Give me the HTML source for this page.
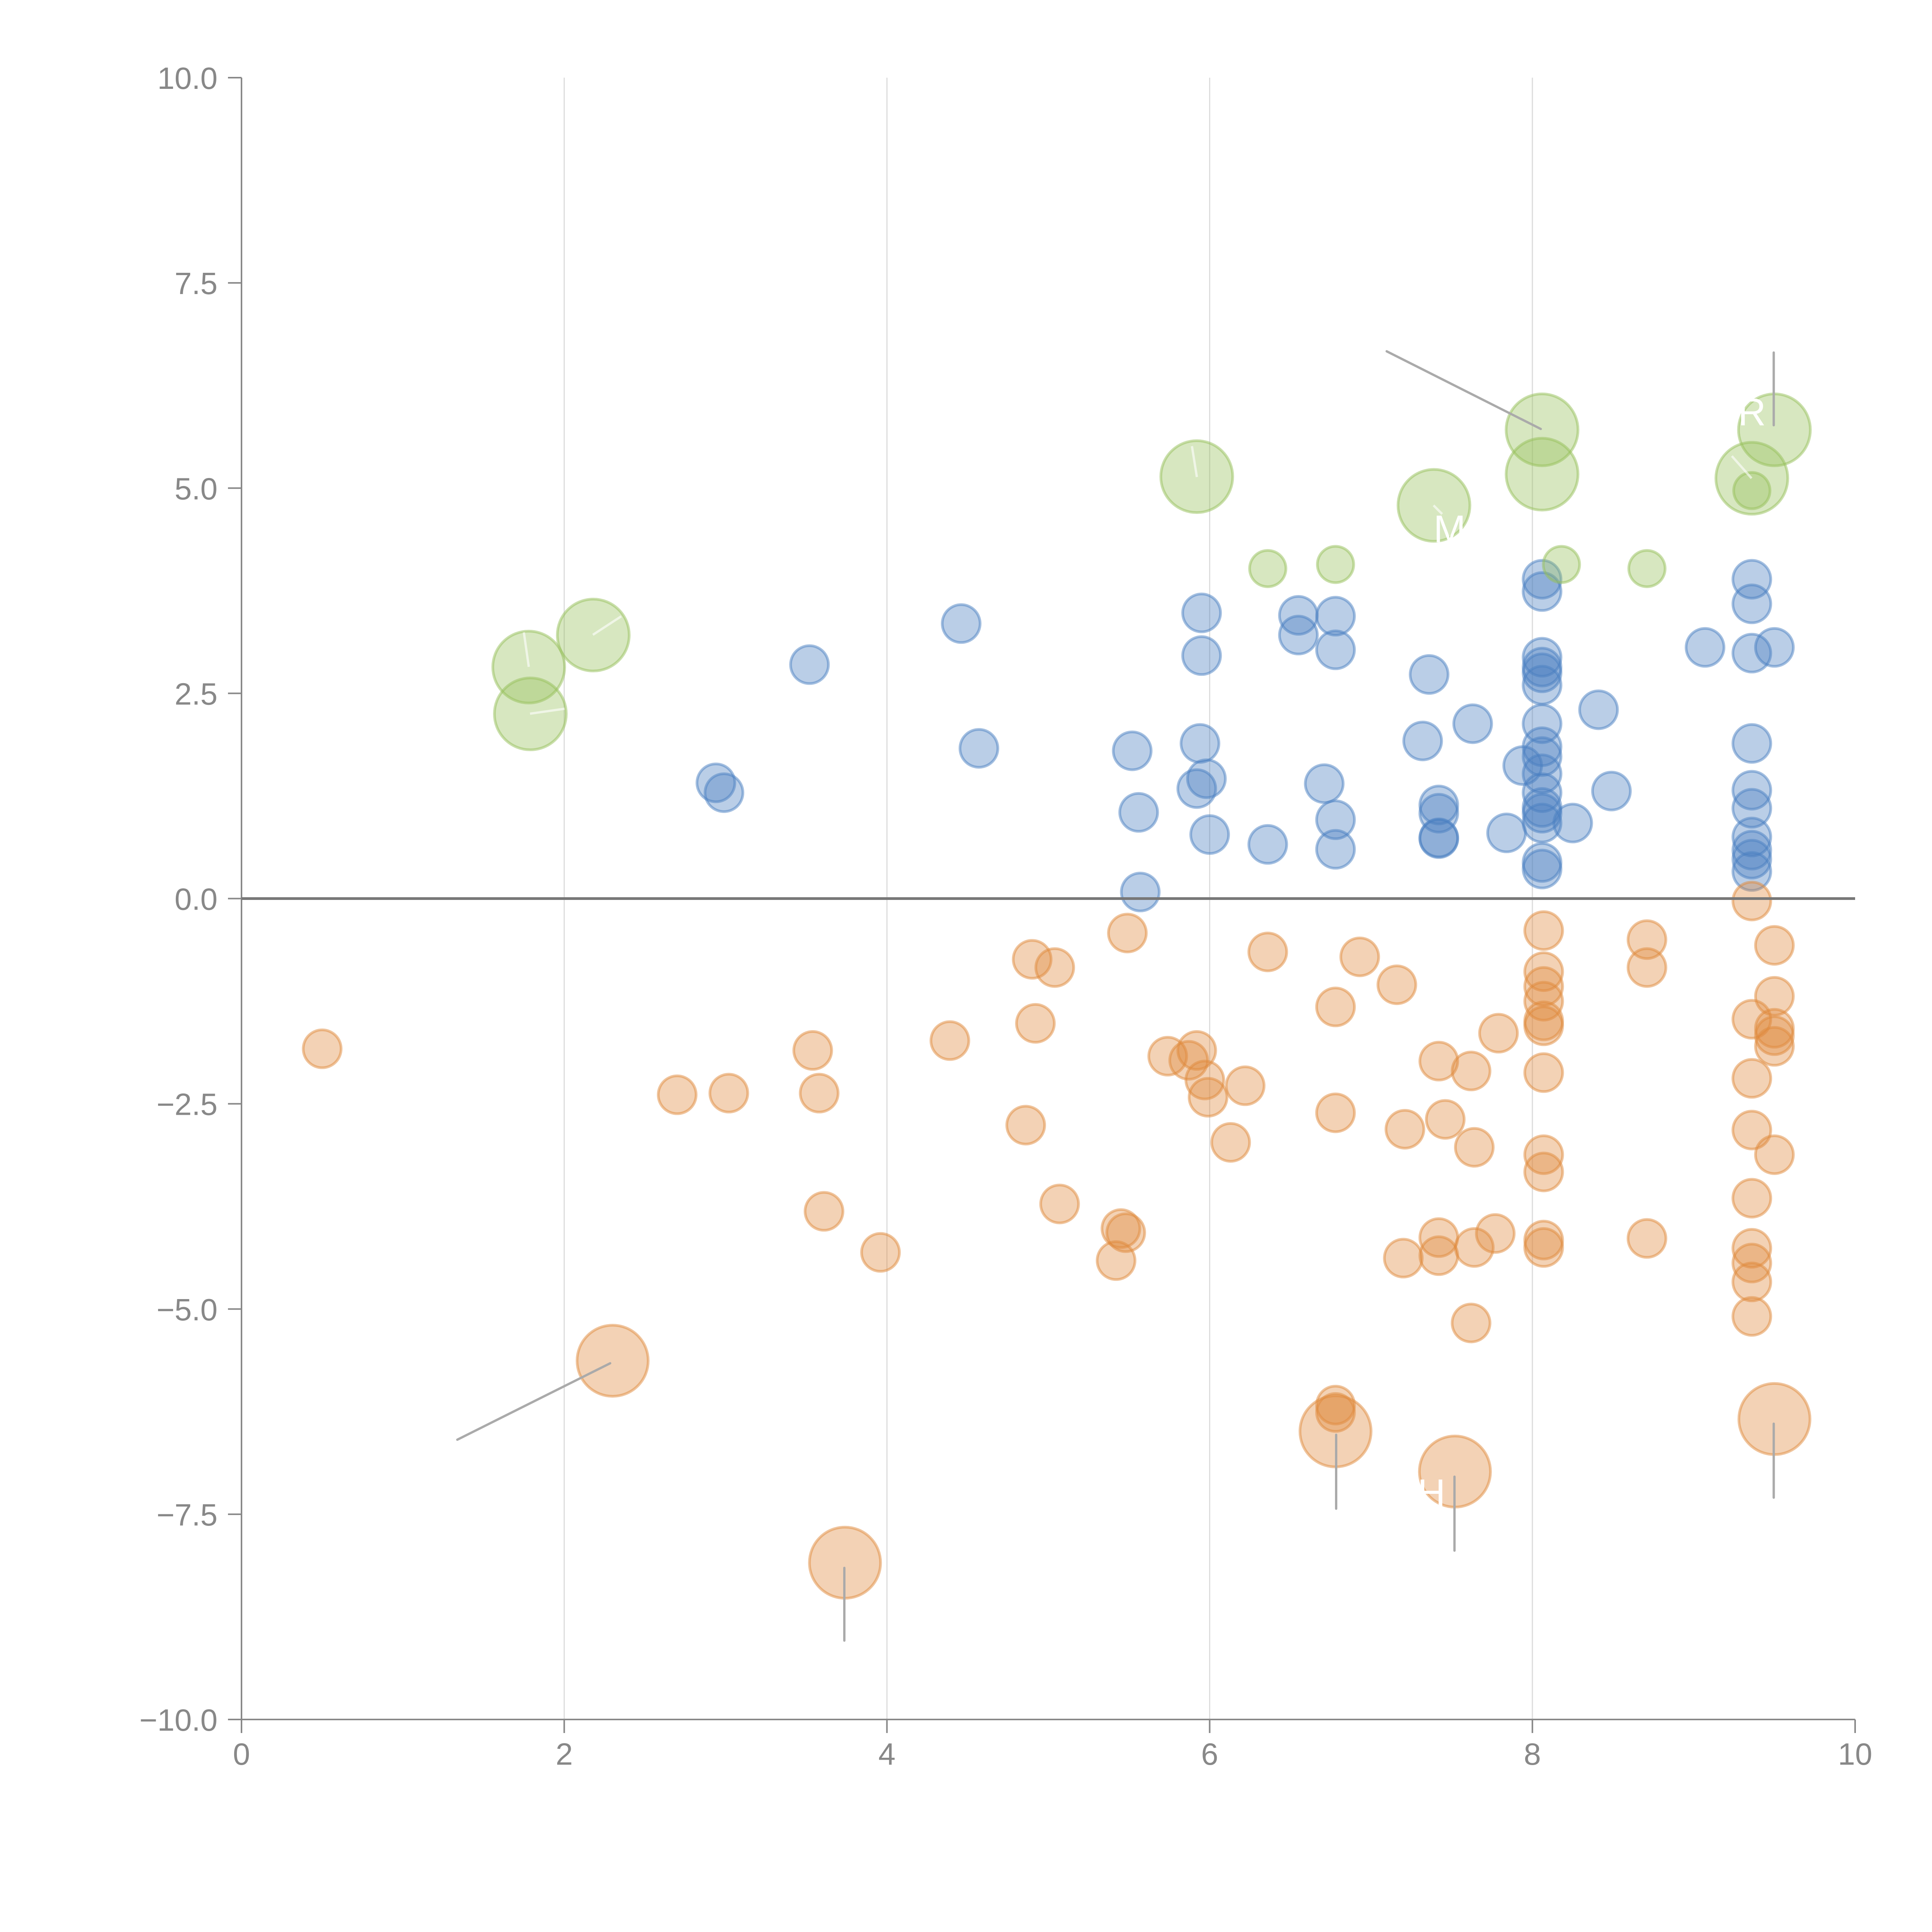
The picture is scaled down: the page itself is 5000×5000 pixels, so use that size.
<!DOCTYPE html>
<html><head><meta charset="utf-8"><style>
html,body{margin:0;padding:0;background:#fff;}
svg{display:block;font-family:"Liberation Sans",sans-serif;}
</style></head><body>
<svg id="chart" width="5000" height="5000" viewBox="0 0 5000 5000" xmlns="http://www.w3.org/2000/svg"></svg>
<script>
const xTicks=[0,2,4,6,8,10];
const yTicks=[-10,-7.5,-5,-2.5,0,2.5,5,7.5,10];
const xTickLabels=["0","2","4","6","8","10"];
const yTickLabels=["\u221210.0","\u22127.5","\u22125.0","\u22122.5","0.0","2.5","5.0","7.5","10.0"];

const greenBigX=[1.78,2.18,1.79,5.92,7.39,8.06,8.06,9.50,9.36];
const greenBigY=[2.82,3.21,2.25,5.14,4.79,5.71,5.17,5.71,5.12];
const greenX=[9.36,6.36,6.78,8.18,8.71];
const greenY=[4.97,4.02,4.07,4.07,4.02];

const blueX=[3.52,4.46,4.57,2.94,2.99,5.52,5.56,5.57,5.95,5.95,5.94,5.92,5.98,6.00,6.36,6.55,6.55,6.78,6.78,6.71,6.78,6.78,7.36,7.32,7.42,7.42,7.42,7.42,7.63,7.84,7.94,
8.06,8.06,8.06,8.06,8.06,8.06,8.06,8.06,8.06,8.06,8.06,8.06,8.06,8.06,8.06,8.06,
8.25,8.41,8.49,9.07,9.50,9.36,9.36,9.36,9.36,9.36,9.36,9.36,9.36,9.36,9.36];
const blueY=[2.85,3.35,1.83,1.41,1.29,1.80,1.05,0.08,3.48,2.96,1.89,1.34,1.46,0.78,0.66,3.45,3.21,3.44,3.03,1.40,0.96,0.60,2.73,1.92,1.14,1.04,0.74,0.73,2.13,0.80,1.62,
3.89,3.74,2.94,2.82,2.75,2.60,2.13,1.85,1.73,1.52,1.29,1.11,1.04,0.92,0.44,0.36,
0.92,2.30,1.31,3.06,3.06,3.89,3.59,2.99,1.89,1.32,1.10,0.75,0.59,0.48,0.33];

const orangeX=[0.50,2.70,3.02,3.54,3.58,3.61,3.96,4.39,4.90,5.04,4.92,4.86,5.07,5.45,5.48,5.42,5.49,5.74,5.87,5.92,5.97,5.99,6.22,6.13,6.36,6.78,6.78,6.78,6.78,6.93,7.16,7.21,7.20,7.42,7.46,7.42,7.42,7.62,7.64,7.64,7.62,7.77,7.79,
8.07,8.07,8.07,8.07,8.07,8.07,8.07,8.07,8.07,8.07,8.07,8.71,8.71,8.71,
9.36,9.50,9.50,9.36,9.50,9.50,9.50,9.36,9.36,9.50,9.36,9.36,9.36,9.36,9.36];
const orangeY=[-1.83,-2.39,-2.37,-1.85,-2.37,-3.81,-4.31,-1.73,-0.74,-0.84,-1.52,-2.76,-3.72,-4.02,-4.07,-4.41,-0.42,-1.92,-1.97,-1.85,-2.21,-2.42,-2.28,-2.97,-0.65,-1.32,-2.61,-6.17,-6.26,-0.71,-1.05,-2.81,-4.38,-1.98,-2.69,-4.13,-4.35,-2.10,-3.03,-4.25,-5.17,-4.08,-1.64,
-0.39,-0.89,-1.07,-1.25,-1.49,-1.55,-2.12,-3.12,-3.33,-4.16,-4.25,-0.50,-0.84,-4.14,
-0.03,-0.57,-1.19,-1.47,-1.58,-1.67,-1.80,-2.19,-2.82,-3.12,-3.65,-4.26,-4.44,-4.67,-5.09];
const orangeBigX=[2.30,3.74,6.78,7.52,9.50];
const orangeBigY=[-5.63,-8.09,-6.49,-6.98,-6.34];

const NS="http://www.w3.org/2000/svg";
const svg=document.getElementById('chart');
const X0=625,X1=4801,Y0=4450,Y1=201;
function sx(v){return X0+(v-0)/(10-0)*(X1-X0);}
function sy(v){return Y0-(v+10)/20*(Y0-Y1);}
function mk(tag,attrs,parent){const e=document.createElementNS(NS,tag);for(const k in attrs)e.setAttribute(k,attrs[k]);(parent||svg).appendChild(e);return e;}

// gridlines
const grid=mk('g',{});


xTicks.forEach(t=>{if(t>0&&t<10){const l=mk('line',{x1:sx(t),x2:sx(t),y1:Y1,y2:Y0,stroke:'#dcdcdc','stroke-width':3},grid);

}});

// axes
const ya=mk('line',{x1:X0,x2:X0,y1:Y1,y2:Y0+35,stroke:'#888','stroke-width':4});


const xa=mk('line',{x1:X0-35,x2:X1,y1:Y0,y2:Y0,stroke:'#888','stroke-width':4});


yTicks.forEach((t,i)=>{
  const tk=mk('line',{x1:X0-35,x2:X0,y1:sy(t),y2:sy(t),stroke:'#888','stroke-width':4});
  
  
  const tx=mk('text',{x:X0-62,y:sy(t)+29,'text-anchor':'end','font-size':80,fill:'#888'});
  tx.textContent=yTickLabels[i];
  
  
});
xTicks.forEach((t,i)=>{
  const tk=mk('line',{x1:sx(t),x2:sx(t),y1:Y0,y2:Y0+35,stroke:'#888','stroke-width':4});
  
  
  const tx=mk('text',{x:sx(t),y:Y0+117,'text-anchor':'middle','font-size':80,fill:'#888'});
  tx.textContent=xTickLabels[i];
  
  
});

function series(xs,ys,r,color,name){
  const g=mk('g',{});
  
  
  xs.forEach((x,i)=>{
    const c=mk('circle',{cx:sx(x),cy:sy(ys[i]),r:r,fill:color,'fill-opacity':0.38,stroke:color,'stroke-opacity':0.5,'stroke-width':7},g);
    
    
  });
}
series(blueX,blueY,49,'#4a7fc1','blue');
series(orangeX,orangeY,49,'#e08a3c','orange');
series(orangeBigX,orangeBigY,92,'#e08a3c','orange-large');
series(greenX,greenY,47,'#96bf5a','green');
series(greenBigX,greenBigY,93,'#96bf5a','green-large');

// zero line
const z=mk('line',{x1:X0,x2:X1,y1:sy(0),y2:sy(0),stroke:'#777','stroke-width':7});



// leader lines (display-derived)
const leaders=[[1125,285,1250,348],[1439,286,1439,345],[371,1168,495,1106],[685,1272,685,1331],[1084,1164,1084,1224],[1180,1198,1180,1258],[1439,1155,1439,1215]];
leaders.forEach(a=>{const l=mk('line',{x1:a[0]*3.19,y1:a[1]*3.19,x2:a[2]*3.19,y2:a[3]*3.19,stroke:'#aaa','stroke-width':6,'stroke-linecap':'round'});

});
const wl=[[429,541,425,513],[481,515,504,500],[430,579,458,575],[971,387,967,362],[1421,388,1405,370],[1163,410,1170,417]];
wl.forEach(a=>{const l=mk('line',{x1:a[0]*3.19,y1:a[1]*3.19,x2:a[2]*3.19,y2:a[3]*3.19,stroke:'#fff','stroke-opacity':0.6,'stroke-width':6});

});
const labs=[["M",1163,440],["R",1410,345],["H",1150,1222]];
labs.forEach(a=>{const t=mk('text',{x:a[1]*3.19,y:a[2]*3.19,'font-size':100,fill:'#fff'});t.textContent=a[0];

});
</script>
</body></html>
